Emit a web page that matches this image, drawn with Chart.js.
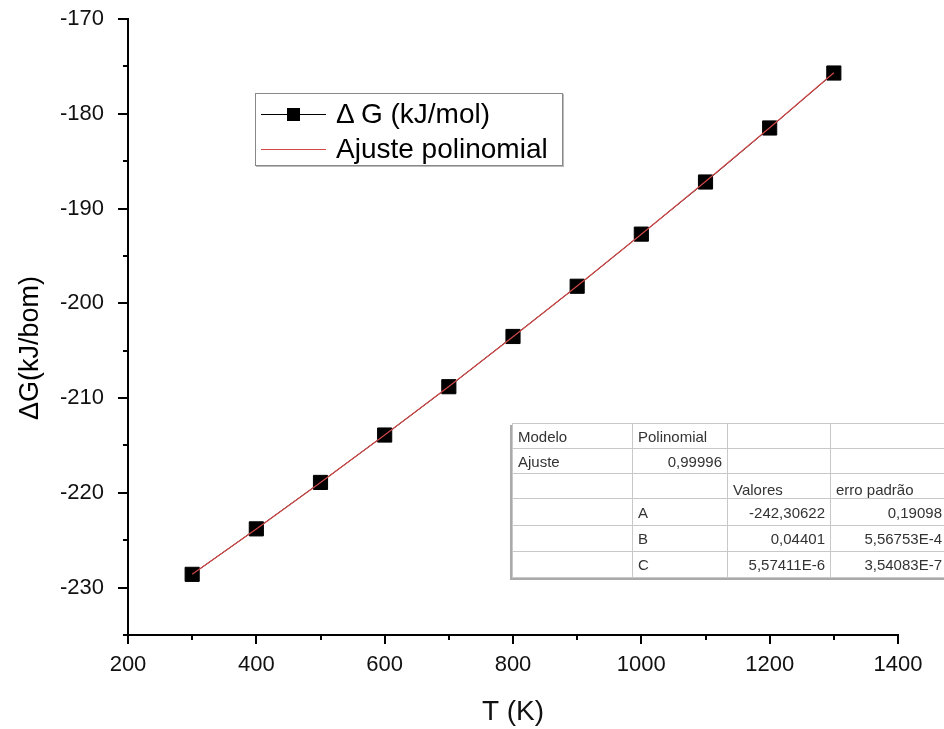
<!DOCTYPE html>
<html>
<head>
<meta charset="utf-8">
<script src="https://cdn.jsdelivr.net/npm/chart.js@4.4.0/dist/chart.umd.min.js"></script>
<style>
  html, body { margin: 0; padding: 0; background: #fff; overflow: hidden; }
  #wrap { position: relative; width: 944px; height: 729px; overflow: hidden; font-family: Arial, "Liberation Sans", sans-serif; }
  #chart { position: absolute; left: 0; top: 0; }

  /* legend box inside the plot */
  #legend { position: absolute; left: 255px; top: 93px; width: 306px; height: 71px;
            border: 1px solid #888; box-shadow: 1px 1px 0 #bbb; background: #fff; }
  .row { position: absolute; left: 0; height: 34px; width: 100%; }
  .row .ln { position: absolute; left: 5px; width: 65px; height: 1px; top: 17px; }
  .row .sq { position: absolute; left: 31px; top: 11px; width: 13px; height: 13px; background: #000; }
  .row .tx { position: absolute; left: 80px; top: 0; font-size: 28px; line-height: 34px; color: #000; white-space: nowrap; }

  /* fit results table */
  #fit { position: absolute; left: 512px; top: 423px; width: 435px; border-collapse: collapse;
         border: 1px solid #777; box-shadow: -2px 2px 0 #aaa; background: #fff;
         font-size: 15px; color: #333; table-layout: fixed; }
  #fit td { border: 1px solid #c8c8c8; padding: 0 5px; white-space: nowrap; overflow: hidden; }
  #fit td.r { text-align: right; }
</style>
</head>
<body>
<div id="wrap">
  <canvas id="chart" width="944" height="729"></canvas>

  <div id="legend">
    <div class="row" style="top:3px">
      <div class="ln" style="background:#000"></div>
      <div class="sq"></div>
      <div class="tx">&Delta; G (kJ/mol)</div>
    </div>
    <div class="row" style="top:38px">
      <div class="ln" style="background:#d04848"></div>
      <div class="tx">Ajuste polinomial</div>
    </div>
  </div>

  <table id="fit">
    <colgroup><col style="width:120px"><col style="width:95px"><col style="width:103px"><col style="width:117px"></colgroup>
    <tr style="height:25px"><td>Modelo</td><td>Polinomial</td><td></td><td></td></tr>
    <tr style="height:25px"><td>Ajuste</td><td class="r">0,99996</td><td></td><td></td></tr>
    <tr style="height:25px"><td></td><td></td><td style="vertical-align:bottom">Valores</td><td style="vertical-align:bottom">erro padrão</td></tr>
    <tr style="height:27px"><td></td><td>A</td><td class="r">-242,30622</td><td class="r">0,19098</td></tr>
    <tr style="height:26px"><td></td><td>B</td><td class="r">0,04401</td><td class="r">5,56753E-4</td></tr>
    <tr style="height:26px"><td></td><td>C</td><td class="r">5,57411E-6</td><td class="r">3,54083E-7</td></tr>
  </table>
</div>

<script>
/* ========= DATA ========= */

const temps = [300, 400, 500, 600, 700, 800, 900, 1000, 1100, 1200, 1300];
const deltaG = [-228.6, -223.8, -218.9, -213.9, -208.8, -203.5, -198.2, -192.7, -187.2, -181.5, -175.7];
const fitG = [-228.6, -223.81, -218.91, -213.89, -208.77, -203.53, -198.18, -192.72, -187.15, -181.47, -175.67];

const xMin = 200, xMax = 1400, xStep = 100, xLabelStep = 200;
const yMin = -235, yMax = -170, yStep = 5, yLabelStep = 10;

const FONT = 'Arial, "Liberation Sans", sans-serif';

function toPoints(xs, ys) {
  return xs.map((x, i) => ({ x: x, y: ys[i] }));
}

/* ========= TICKS + Y TITLE ========= */

// origin-style outward ticks: long on labelled values, short in between
const tickMarks = {
  id: "tickMarks",
  afterDraw(chart) {
    const ctx = chart.ctx;
    const xs = chart.scales.x, ys = chart.scales.y;
    const area = chart.chartArea;
    ctx.save();
    ctx.strokeStyle = "#000";
    ctx.lineWidth = 2;
    ctx.beginPath();
    xs.ticks.forEach(t => {
      const px = Math.round(xs.getPixelForValue(t.value));
      const len = t.value % xLabelStep === 0 ? 9 : 5;
      ctx.moveTo(px, area.bottom);
      ctx.lineTo(px, area.bottom + len);
    });
    ys.ticks.forEach(t => {
      const py = Math.round(ys.getPixelForValue(t.value));
      const len = t.value % yLabelStep === 0 ? 10 : 5;
      ctx.moveTo(area.left, py);
      ctx.lineTo(area.left - len, py);
    });
    ctx.stroke();

    // y axis title
    ctx.translate(31, 348);
    ctx.rotate(-Math.PI / 2);
    ctx.fillStyle = "#000";
    ctx.font = "27px " + FONT;
    ctx.textAlign = "center";
    ctx.textBaseline = "middle";
    ctx.fillText("\u0394G(kJ/bom)", 0, 0);
    ctx.restore();
  }
};

/* ========= CHART ========= */

new Chart(document.getElementById("chart"), {
  type: "scatter",
  data: {
    datasets: [
      {
        label: "Ajuste polinomial",
        data: toPoints(temps, fitG),
        showLine: true,
        borderColor: "#d04848",
        borderWidth: 1.2,
        pointRadius: 0,
        tension: 0
      },
      {
        label: "\u0394 G (kJ/mol)",
        data: toPoints(temps, deltaG),
        showLine: true,
        borderColor: "#000",
        borderWidth: 1,
        pointStyle: "rect",
        pointRadius: 10,
        pointBackgroundColor: "#000",
        pointBorderColor: "#000",
        pointBorderWidth: 1,
        tension: 0
      }
    ]
  },
  options: {
    responsive: false,
    animation: false,
    layout: { padding: { top: 19, right: 46, left: 0, bottom: 0 } },
    plugins: {
      legend: { display: false },
      tooltip: { enabled: false }
    },
    scales: {
      x: {
        type: "linear",
        min: xMin,
        max: xMax,
        afterFit: s => { s.height = 94; s.paddingLeft = 0; s.paddingRight = 0; },
        grid: { display: false, drawTicks: false },
        border: { display: true, color: "#000", width: 2 },
        ticks: {
          stepSize: xStep,
          autoSkip: false,
          maxRotation: 0,
          padding: 17,
          color: "#111",
          font: { family: FONT, size: 22 },
          callback: v => (v % xLabelStep === 0 ? String(v) : "")
        },
        title: {
          display: true,
          text: "T (K)",
          color: "#111",
          font: { family: FONT, size: 28 },
          padding: { top: 0, bottom: 0 }
        }
      },
      y: {
        type: "linear",
        min: yMin,
        max: yMax,
        afterFit: s => { s.width = 128; s.paddingTop = 0; s.paddingBottom = 0; },
        grid: { display: false, drawTicks: false },
        border: { display: true, color: "#000", width: 2 },
        ticks: {
          stepSize: yStep,
          autoSkip: false,
          padding: 24,
          color: "#111",
          font: { family: FONT, size: 22 },
          callback: v => (v % yLabelStep === 0 ? String(v) : "")
        }
      }
    }
  },
  plugins: [tickMarks]
});
</script>
</body>
</html>
